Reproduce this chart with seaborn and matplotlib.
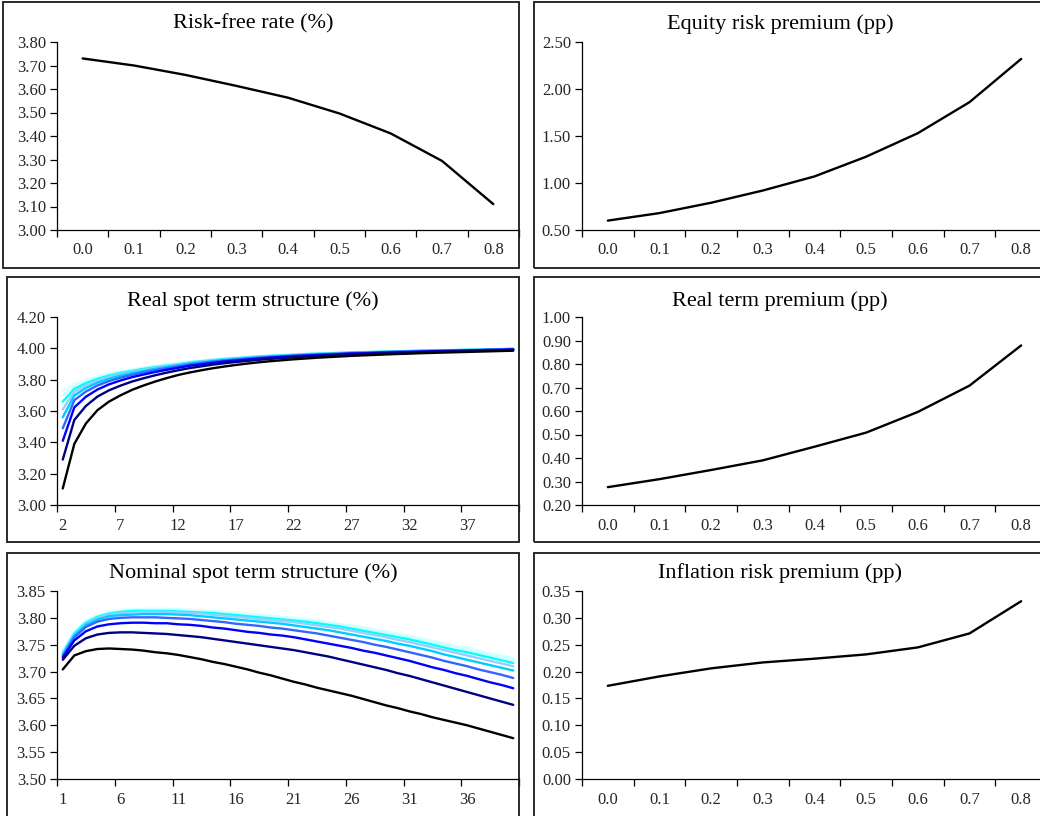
import numpy as np
import pandas as pd
import matplotlib
matplotlib.use("Agg")
import matplotlib.pyplot as plt
import seaborn as sns
from matplotlib.patches import Rectangle
from matplotlib.ticker import FixedLocator, FixedFormatter, FormatStrFormatter

# ---------------- data ----------------
params = ["0.0", "0.1", "0.2", "0.3", "0.4", "0.5", "0.6", "0.7", "0.8"]

risk_free = [3.73, 3.70, 3.66, 3.613, 3.563, 3.496, 3.411, 3.294, 3.11]
equity_rp = [0.60, 0.68, 0.79, 0.92, 1.07, 1.28, 1.53, 1.86, 2.32]
real_tp = [0.276, 0.31, 0.349, 0.39, 0.448, 0.508, 0.596, 0.708, 0.879]
infl_rp = [0.1735, 0.191, 0.206, 0.217, 0.224, 0.232, 0.245, 0.271, 0.331]

real_maturities = list(range(2, 42))
nominal_maturities = list(range(1, 41))

real_spot_00 = [3.73, 3.772, 3.80, 3.822, 3.84, 3.855, 3.867, 3.878, 3.888, 3.897, 3.907,
                3.916, 3.923, 3.93, 3.936, 3.941, 3.946, 3.951, 3.955, 3.958, 3.962,
                3.965, 3.968, 3.97, 3.973, 3.976, 3.977, 3.979, 3.981, 3.983, 3.984,
                3.986, 3.988, 3.989, 3.99, 3.992, 3.993, 3.995, 3.996, 3.998]
real_spot_01 = [3.70, 3.757, 3.789, 3.813, 3.833, 3.849, 3.862, 3.873, 3.884, 3.894, 3.902,
                3.913, 3.92, 3.928, 3.934, 3.939, 3.944, 3.949, 3.954, 3.957, 3.961,
                3.964, 3.967, 3.969, 3.972, 3.975, 3.976, 3.978, 3.98, 3.982, 3.983,
                3.985, 3.987, 3.988, 3.989, 3.991, 3.992, 3.994, 3.995, 3.997]
real_spot_02 = [3.66, 3.741, 3.778, 3.805, 3.826, 3.843, 3.856, 3.869, 3.88, 3.89, 3.899,
                3.91, 3.918, 3.925, 3.932, 3.937, 3.943, 3.948, 3.952, 3.955, 3.959,
                3.963, 3.966, 3.968, 3.971, 3.974, 3.975, 3.977, 3.979, 3.981, 3.983,
                3.985, 3.987, 3.988, 3.989, 3.991, 3.992, 3.994, 3.995, 3.997]
real_spot_03 = [3.61, 3.722, 3.764, 3.794, 3.817, 3.835, 3.85, 3.863, 3.875, 3.886, 3.895,
                3.907, 3.915, 3.923, 3.929, 3.935, 3.94, 3.946, 3.95, 3.954, 3.958,
                3.961, 3.964, 3.967, 3.97, 3.973, 3.974, 3.976, 3.978, 3.981, 3.982,
                3.984, 3.986, 3.987, 3.988, 3.99, 3.991, 3.993, 3.994, 3.996]
real_spot_04 = [3.56, 3.699, 3.747, 3.781, 3.806, 3.826, 3.842, 3.856, 3.869, 3.88, 3.891,
                3.903, 3.911, 3.919, 3.926, 3.932, 3.938, 3.943, 3.948, 3.952, 3.956,
                3.959, 3.963, 3.965, 3.968, 3.971, 3.973, 3.975, 3.977, 3.979, 3.981,
                3.983, 3.985, 3.986, 3.987, 3.989, 3.99, 3.992, 3.994, 3.996]
real_spot_05 = [3.49, 3.669, 3.724, 3.763, 3.791, 3.813, 3.831, 3.847, 3.861, 3.874, 3.885,
                3.897, 3.906, 3.915, 3.922, 3.928, 3.934, 3.94, 3.945, 3.949, 3.953,
                3.957, 3.96, 3.963, 3.966, 3.97, 3.971, 3.973, 3.976, 3.978, 3.979,
                3.981, 3.983, 3.985, 3.986, 3.988, 3.989, 3.991, 3.992, 3.994]
real_spot_06 = [3.41, 3.623, 3.691, 3.737, 3.77, 3.795, 3.816, 3.833, 3.849, 3.863, 3.876,
                3.889, 3.898, 3.908, 3.916, 3.923, 3.929, 3.935, 3.941, 3.945, 3.95,
                3.953, 3.957, 3.96, 3.963, 3.967, 3.968, 3.971, 3.973, 3.976, 3.977,
                3.979, 3.981, 3.983, 3.984, 3.986, 3.988, 3.99, 3.991, 3.993]
real_spot_07 = [3.29, 3.543, 3.632, 3.692, 3.732, 3.762, 3.788, 3.809, 3.828, 3.845, 3.86,
                3.874, 3.885, 3.896, 3.905, 3.913, 3.92, 3.927, 3.933, 3.938, 3.943,
                3.947, 3.951, 3.954, 3.958, 3.962, 3.964, 3.966, 3.969, 3.972, 3.973,
                3.976, 3.978, 3.979, 3.981, 3.983, 3.985, 3.987, 3.988, 3.99]
real_spot_08 = [3.106, 3.39, 3.52, 3.605, 3.66, 3.70, 3.735, 3.763, 3.788, 3.81,
                3.83, 3.846, 3.86, 3.873, 3.884, 3.894, 3.903, 3.911, 3.918, 3.924,
                3.93, 3.935, 3.94, 3.944, 3.948, 3.952, 3.955, 3.958, 3.961, 3.964,
                3.966, 3.969, 3.971, 3.973, 3.975, 3.977, 3.979, 3.981, 3.983, 3.985]

nominal_spot_00 = [3.740, 3.775, 3.795, 3.806, 3.812, 3.815, 3.816, 3.817, 3.817, 3.817,
                   3.816, 3.815, 3.814, 3.813, 3.811, 3.810, 3.808, 3.806, 3.804, 3.802,
                   3.800, 3.798, 3.795, 3.792, 3.789, 3.786, 3.783, 3.779, 3.775, 3.771,
                   3.767, 3.762, 3.758, 3.753, 3.748, 3.744, 3.739, 3.734, 3.730, 3.725]
nominal_spot_01 = [3.737, 3.773, 3.793, 3.804, 3.810, 3.813, 3.815, 3.815, 3.815, 3.815,
                   3.815, 3.814, 3.813, 3.811, 3.810, 3.808, 3.806, 3.804, 3.802, 3.800,
                   3.798, 3.796, 3.793, 3.790, 3.787, 3.784, 3.780, 3.776, 3.772, 3.768,
                   3.764, 3.759, 3.754, 3.750, 3.745, 3.740, 3.735, 3.731, 3.726, 3.721]
nominal_spot_02 = [3.735, 3.771, 3.791, 3.802, 3.808, 3.811, 3.813, 3.813, 3.813, 3.813,
                   3.812, 3.811, 3.810, 3.809, 3.807, 3.805, 3.803, 3.801, 3.799, 3.797,
                   3.795, 3.793, 3.790, 3.787, 3.784, 3.780, 3.776, 3.772, 3.768, 3.764,
                   3.760, 3.755, 3.750, 3.745, 3.740, 3.736, 3.731, 3.726, 3.721, 3.716]
nominal_spot_03 = [3.733, 3.769, 3.789, 3.800, 3.806, 3.809, 3.810, 3.811, 3.811, 3.811,
                   3.810, 3.809, 3.808, 3.806, 3.804, 3.802, 3.800, 3.798, 3.796, 3.794,
                   3.792, 3.789, 3.786, 3.783, 3.780, 3.776, 3.772, 3.768, 3.764, 3.759,
                   3.755, 3.750, 3.745, 3.740, 3.735, 3.730, 3.725, 3.720, 3.715, 3.710]
nominal_spot_04 = [3.731, 3.767, 3.787, 3.797, 3.803, 3.805, 3.806, 3.807, 3.807, 3.807,
                   3.806, 3.805, 3.803, 3.801, 3.799, 3.797, 3.795, 3.793, 3.791, 3.789,
                   3.786, 3.783, 3.780, 3.777, 3.773, 3.769, 3.765, 3.761, 3.757, 3.752,
                   3.748, 3.743, 3.738, 3.732, 3.727, 3.722, 3.717, 3.712, 3.707, 3.702]
nominal_spot_05 = [3.729, 3.764, 3.783, 3.793, 3.798, 3.800, 3.801, 3.801, 3.801, 3.800,
                   3.799, 3.798, 3.796, 3.794, 3.792, 3.789, 3.787, 3.785, 3.782, 3.780,
                   3.777, 3.774, 3.771, 3.767, 3.763, 3.759, 3.755, 3.750, 3.746, 3.741,
                   3.736, 3.731, 3.726, 3.720, 3.715, 3.710, 3.704, 3.699, 3.694, 3.688]
nominal_spot_06 = [3.726, 3.758, 3.775, 3.784, 3.788, 3.790, 3.791, 3.791, 3.790, 3.790,
                   3.788, 3.787, 3.785, 3.782, 3.780, 3.777, 3.774, 3.772, 3.769, 3.767,
                   3.764, 3.760, 3.756, 3.752, 3.748, 3.744, 3.739, 3.735, 3.730, 3.725,
                   3.720, 3.714, 3.708, 3.703, 3.697, 3.692, 3.686, 3.680, 3.675, 3.669]
nominal_spot_07 = [3.722, 3.748, 3.762, 3.769, 3.772, 3.773, 3.773, 3.772, 3.771, 3.770,
                   3.768, 3.766, 3.764, 3.761, 3.758, 3.755, 3.752, 3.749, 3.746, 3.743,
                   3.740, 3.736, 3.732, 3.728, 3.723, 3.718, 3.713, 3.708, 3.703, 3.697,
                   3.692, 3.686, 3.680, 3.674, 3.668, 3.662, 3.656, 3.650, 3.644, 3.638]
nominal_spot_08 = [3.704, 3.730, 3.738, 3.742, 3.743, 3.742, 3.741, 3.739, 3.736, 3.734,
                   3.731, 3.727, 3.723, 3.718, 3.714, 3.709, 3.704, 3.698, 3.693, 3.687,
                   3.681, 3.676, 3.670, 3.665, 3.660, 3.655, 3.649, 3.643, 3.637, 3.632,
                   3.626, 3.621, 3.615, 3.610, 3.605, 3.600, 3.594, 3.588, 3.582, 3.576]

real_spot = [real_spot_00, real_spot_01, real_spot_02, real_spot_03, real_spot_04,
             real_spot_05, real_spot_06, real_spot_07, real_spot_08]
nominal_spot = [nominal_spot_00, nominal_spot_01, nominal_spot_02, nominal_spot_03,
                nominal_spot_04, nominal_spot_05, nominal_spot_06, nominal_spot_07,
                nominal_spot_08]

series_colors = {"0.0": "#D9FFFF", "0.1": "#CCFFFF", "0.2": "#00FFFF", "0.3": "#99CCFF",
                 "0.4": "#00CCFF", "0.5": "#3366FF", "0.6": "#0000FF", "0.7": "#000080",
                 "0.8": "#000000"}

# ---------------- style ----------------
sns.set_style("white")
plt.rcParams["font.family"] = ["Liberation Serif", "DejaVu Serif"]

W, H = 1040, 816
fig = plt.figure(figsize=(W / 100, H / 100), dpi=100)


def ax_at(x0, y0, x1, y1):
    return fig.add_axes([x0 / W, 1 - y1 / H, (x1 - x0) / W, (y1 - y0) / H])


def box(x0, y0, x1, y1):
    fig.patches.append(Rectangle((x0 / W, 1 - y1 / H), (x1 - x0) / W, (y1 - y0) / H,
                                 transform=fig.transFigure, fill=False,
                                 edgecolor="#1a1a1a", linewidth=1.3, zorder=0))


def style_axis(ax, cats, step, ylo, yhi, ystep, yfmt):
    n = len(cats)
    ax.set_xlim(-0.5, n - 0.5)
    ax.set_ylim(ylo, yhi)
    ax.yaxis.set_major_locator(FixedLocator(np.round(np.arange(ylo, yhi + ystep / 2, ystep), 4)))
    ax.yaxis.set_major_formatter(FormatStrFormatter(yfmt))
    bounds = [i - 0.5 for i in range(0, n + 1, step)]
    ax.xaxis.set_major_locator(FixedLocator(bounds))
    ax.xaxis.set_major_formatter(FixedFormatter([""] * len(bounds)))
    centers = list(range(0, n, step))
    ax.xaxis.set_minor_locator(FixedLocator(centers))
    ax.xaxis.set_minor_formatter(FixedFormatter([str(cats[i]) for i in centers]))
    ax.tick_params(axis="x", which="minor", length=0, pad=9, labelsize=12)
    ax.tick_params(axis="x", which="major", length=5, width=0.9, direction="out",
                   color="black", bottom=True)
    ax.tick_params(axis="y", which="major", length=5, width=0.9, direction="out",
                   color="black", pad=3, labelsize=12, left=True)
    for s in ["top", "right"]:
        ax.spines[s].set_visible(False)
    for s in ["left", "bottom"]:
        ax.spines[s].set_color("black")
        ax.spines[s].set_linewidth(0.9)
    ax.set_xlabel("")
    ax.set_ylabel("")
    ax.set_facecolor("white")
    ax.patch.set_alpha(0)


def single(ax, values):
    df = pd.DataFrame({"pos": np.arange(len(params)), "value": values})
    sns.lineplot(data=df, x="pos", y="value", color="black", linewidth=1.7, ax=ax)


def multi(ax, mats, curves):
    frames = []
    for p, vals in zip(params, curves):
        frames.append(pd.DataFrame({"pos": np.arange(len(mats)), "value": vals, "param": p}))
    df = pd.concat(frames, ignore_index=True)
    sns.lineplot(data=df, x="pos", y="value", hue="param", hue_order=params,
                 palette=series_colors, linewidth=1.7, legend=False, ax=ax)


# boxes
box(3, 2, 519, 268)
box(534, 2, 1046, 268)
box(7, 277, 519, 542)
box(534, 277, 1046, 542)
box(7, 553, 519, 830)
box(534, 553, 1046, 830)

# panels
ax1 = ax_at(57, 42, 519, 230)
single(ax1, risk_free)
style_axis(ax1, params, 1, 3.0, 3.8, 0.1, "%.2f")

ax2 = ax_at(582, 42, 1047, 230)
single(ax2, equity_rp)
style_axis(ax2, params, 1, 0.5, 2.5, 0.5, "%.2f")

ax3 = ax_at(57, 317, 519, 505)
multi(ax3, real_maturities, real_spot)
style_axis(ax3, real_maturities, 5, 3.0, 4.2, 0.2, "%.2f")

ax4 = ax_at(582, 317, 1047, 505)
single(ax4, real_tp)
style_axis(ax4, params, 1, 0.2, 1.0, 0.1, "%.2f")

ax5 = ax_at(57, 591, 519, 779)
multi(ax5, nominal_maturities, nominal_spot)
style_axis(ax5, nominal_maturities, 5, 3.5, 3.85, 0.05, "%.2f")

ax6 = ax_at(582, 591, 1047, 779)
single(ax6, infl_rp)
style_axis(ax6, params, 1, 0.0, 0.35, 0.05, "%.2f")

# titles
title_kw = dict(ha="center", va="center", fontsize=16, color="black")
fig.text(253 / W, 1 - 24 / H, "Risk-free rate (%)", **title_kw)
fig.text(780 / W, 1 - 24 / H, "Equity risk premium (pp)", **title_kw)
fig.text(253 / W, 1 - 301 / H, "Real spot term structure (%)", **title_kw)
fig.text(780 / W, 1 - 301 / H, "Real term premium (pp)", **title_kw)
fig.text(253 / W, 1 - 573 / H, "Nominal spot term structure (%)", **title_kw)
fig.text(780 / W, 1 - 573 / H, "Inflation risk premium (pp)", **title_kw)

fig.savefig("out.png", dpi=100, facecolor="white")
